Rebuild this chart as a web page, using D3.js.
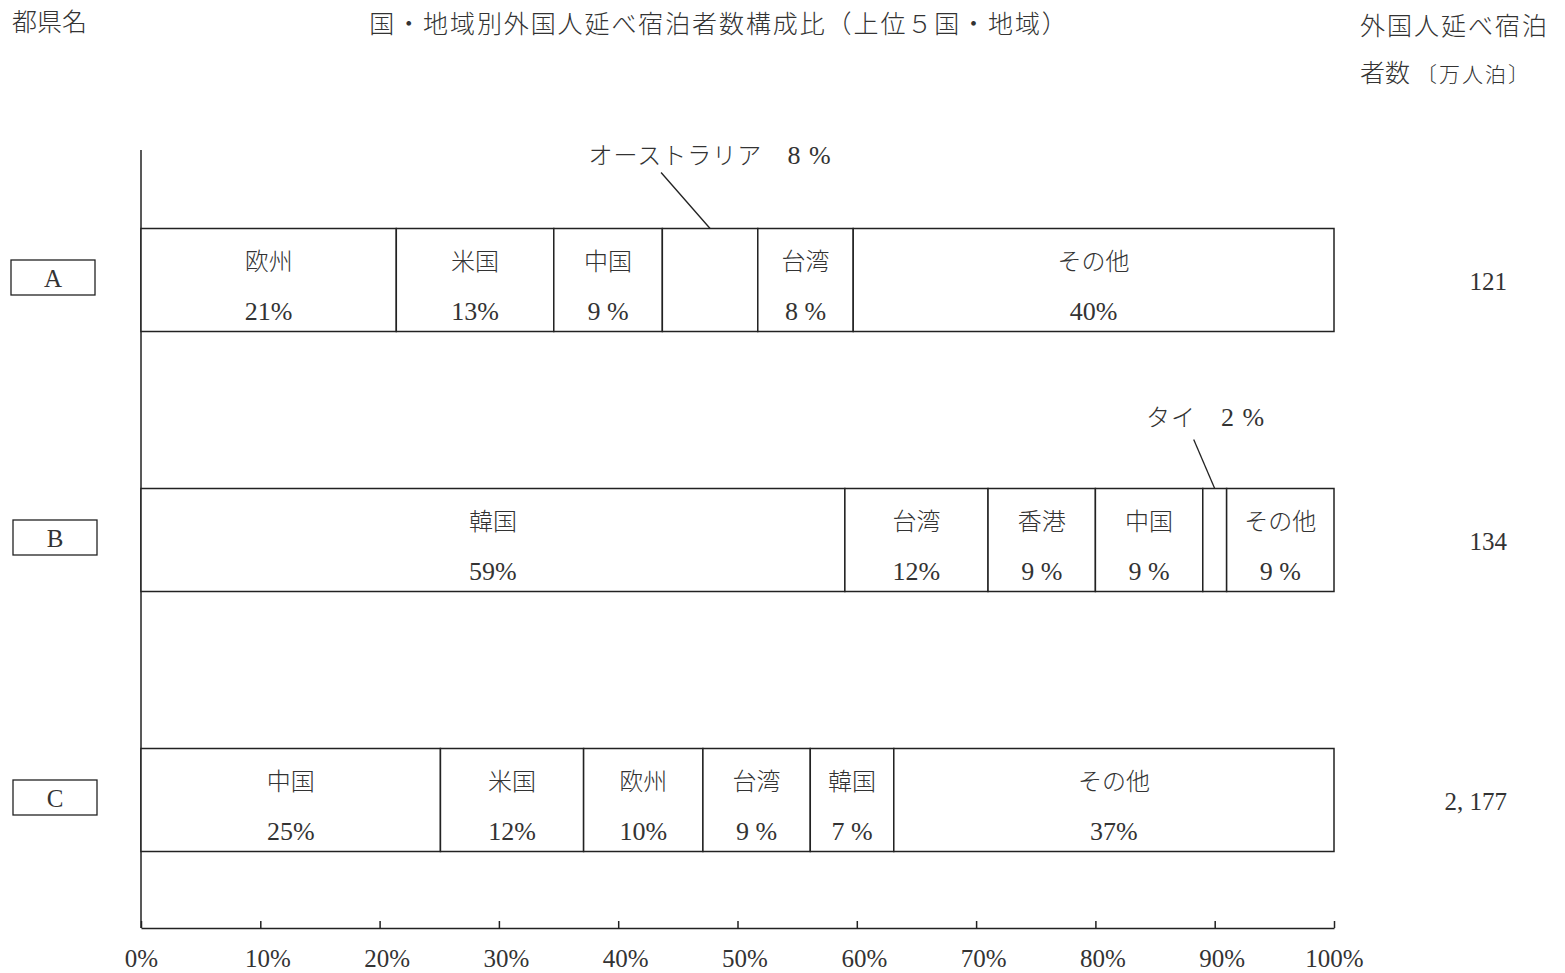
<!DOCTYPE html>
<meta charset="utf-8">
<script src="https://d3js.org/d3.v7.min.js"></script>
<style type="text/css">
body { margin: 0; background: #fff; }
text { font-family: "Liberation Serif", "Noto Sans CJK JP", serif; fill: #333; font-weight: 300; }
</style>
<body>
</body>
<script>

// data
var rows = ["A", "B", "C"];

var namesA = ["欧州", "米国", "中国", "オーストラリア", "台湾", "その他"];
var valuesA = [21.4, 13.2, 9.1, 8.0, 8.0, 40.3];
var labelsA = ["21%", "13%", "9 %", "8 %", "8 %", "40%"];

var namesB = ["韓国", "台湾", "香港", "中国", "タイ", "その他"];
var valuesB = [59.0, 12.0, 9.0, 9.0, 2.0, 9.0];
var labelsB = ["59%", "12%", "9 %", "9 %", "2 %", "9 %"];

var namesC = ["中国", "米国", "欧州", "台湾", "韓国", "その他"];
var valuesC = [25.1, 12.0, 10.0, 9.0, 7.0, 36.9];
var labelsC = ["25%", "12%", "10%", "9 %", "7 %", "37%"];

var totals = ["121", "134", "2, 177"];
var calloutIndex = [3, 4, -1];   // segment labelled outside the bar
var tickValues = [0, 10, 20, 30, 40, 50, 60, 70, 80, 90, 100];

var width = 1565, height = 973;

var svg = d3.select("body").append("svg")
  .attr("width", width)
  .attr("height", height);

var xScale = d3.scaleLinear().domain([0, 100]).range([141, 1334]);
var yScale = d3.scalePoint().domain(rows).range([280, 800]);
var barH = 103;

// headers
svg.append("text").attr("x", 12).attr("y", 31).style("font-size", "25px").text("都県名");
svg.append("text").attr("x", 719).attr("y", 33).attr("text-anchor", "middle")
  .style("font-size", "25px").style("letter-spacing", "1.9px")
  .text("国・地域別外国人延べ宿泊者数構成比（上位５国・地域）");
svg.append("text").attr("x", 1360).attr("y", 35).style("font-size", "25px")
  .style("letter-spacing", "2px").text("外国人延べ宿泊");
var h2 = svg.append("text").attr("x", 1360).attr("y", 82).style("font-size", "25px");
h2.append("tspan").text("者数");
h2.append("tspan").attr("dx", 6).style("font-size", "21px").style("letter-spacing", "2px").text("〔万人泊〕");

// axes
var xAxis = d3.axisBottom(xScale)
  .tickValues(tickValues)
  .tickSize(-7)
  .tickSizeOuter(0)
  .tickPadding(21)
  .tickFormat(function(d) { return d + "%"; });

var xAxisGroup = svg.append("g")
  .attr("class", "x axis")
  .attr("transform", "translate(0,928)")
  .call(xAxis);

xAxisGroup.select(".domain").attr("stroke", "#222").attr("stroke-width", 1.5);
xAxisGroup.selectAll(".tick line").attr("stroke", "#222").attr("stroke-width", 1.5);
xAxisGroup.selectAll("text")
  .style("font-size", "25px")
  .attr("fill", "#333")
  .attr("dx", function(d) { return (d === 0 || d === 100) ? 0 : 7; });

svg.append("line")
  .attr("x1", xScale(0)).attr("x2", xScale(0))
  .attr("y1", 150).attr("y2", 928)
  .attr("stroke", "#222").attr("stroke-width", 1.5);

// bars
var allNames = [namesA, namesB, namesC];
var allValues = [valuesA, valuesB, valuesC];
var allLabels = [labelsA, labelsB, labelsC];
var calloutOffset = [{lx: -49, ly: -56, tx: 0, ty: -73}, {lx: -21, ly: -49, tx: -9, ty: -71}];

rows.forEach(function(r, i) {
  var cum = d3.cumsum(allValues[i]);
  var segs = allValues[i].map(function(v, j) {
    return { name: allNames[i][j], label: allLabels[i][j], x0: cum[j] - v, x1: cum[j], j: j };
  });
  var top = yScale(r) - barH / 2;
  var g = svg.append("g");

  g.selectAll(".seg")
    .data(segs)
    .enter().append("rect")
    .attr("class", "seg")
    .attr("x", function(d) { return xScale(d.x0); })
    .attr("y", top)
    .attr("width", function(d) { return xScale(d.x1) - xScale(d.x0); })
    .attr("height", barH)
    .attr("fill", "#fff")
    .attr("stroke", "#222")
    .attr("stroke-width", 1.5);

  var inside = segs.filter(function(d) { return d.j !== calloutIndex[i]; });

  g.selectAll(".name")
    .data(inside)
    .enter().append("text")
    .attr("x", function(d) { return xScale((d.x0 + d.x1) / 2); })
    .attr("y", top + 33)
    .attr("dy", "0.35em")
    .attr("text-anchor", "middle")
    .style("font-size", "24px")
    .text(function(d) { return d.name; });

  g.selectAll(".pct")
    .data(inside)
    .enter().append("text")
    .attr("x", function(d) { return xScale((d.x0 + d.x1) / 2); })
    .attr("y", top + 82)
    .attr("dy", "0.35em")
    .attr("text-anchor", "middle")
    .style("font-size", "26px")
    .text(function(d) { return d.label; });

  if (calloutIndex[i] >= 0) {
    var c = segs[calloutIndex[i]];
    var cx = xScale((c.x0 + c.x1) / 2);
    var o = calloutOffset[i];
    g.append("line")
      .attr("x1", cx + o.lx).attr("y1", top + o.ly)
      .attr("x2", cx).attr("y2", top)
      .attr("stroke", "#222").attr("stroke-width", 1.3);
    var ct = g.append("text")
      .attr("x", cx + o.tx).attr("y", top + o.ty)
      .attr("dy", "0.35em")
      .attr("text-anchor", "middle")
      .style("font-size", "24px")
      .style("letter-spacing", "1px");
    ct.append("tspan").text(c.name + "\u3000");
    ct.append("tspan").style("font-size", "26px").text(c.label);
  }

  // prefecture box
  var bx = i === 0 ? 11 : 13;
  svg.append("rect")
    .attr("x", bx).attr("y", yScale(r) - 20)
    .attr("width", 84).attr("height", 35)
    .attr("fill", "#fff").attr("stroke", "#222").attr("stroke-width", 1.3);
  svg.append("text")
    .attr("x", bx + 42).attr("y", yScale(r) - 2)
    .attr("dy", "0.35em")
    .attr("text-anchor", "middle")
    .style("font-size", "25px")
    .text(r);

  // total
  svg.append("text")
    .attr("x", 1507).attr("y", yScale(r) + 1)
    .attr("dy", "0.35em")
    .attr("text-anchor", "end")
    .style("font-size", "25px")
    .text(totals[i]);
});

</script>
